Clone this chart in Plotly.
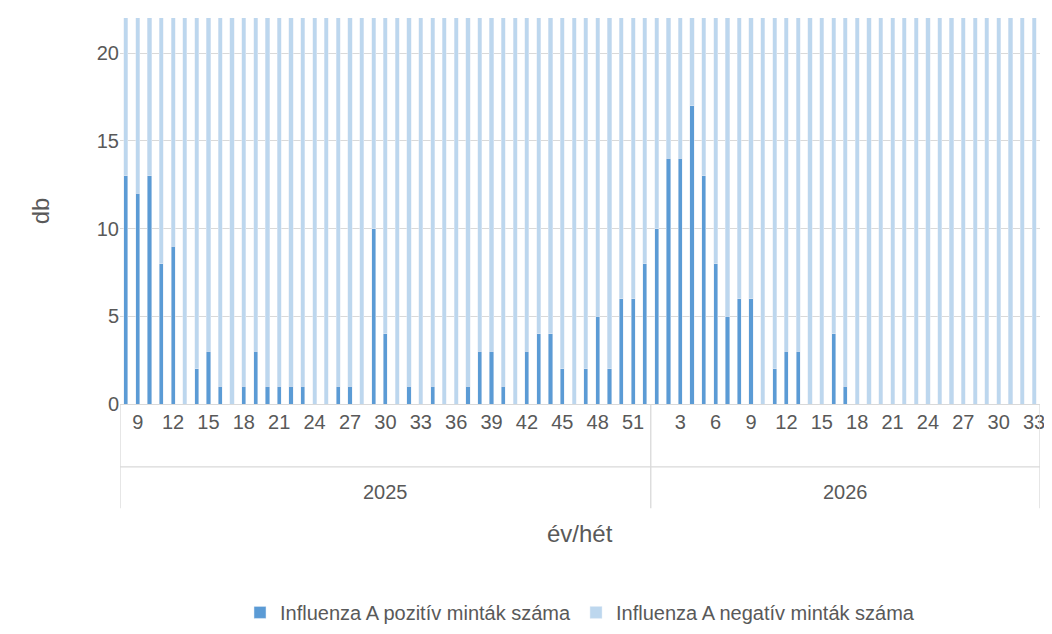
import plotly.graph_objects as go

# 2025: weeks 8..52, 2026: weeks 1..33
weeks_2025 = list(range(8, 53))
weeks_2026 = list(range(1, 34))

pos_2025 = [13, 12, 13, 8, 9, 0, 2, 3, 1, 0, 1, 3, 1, 1, 1, 1, 0, 0, 1, 1, 0, 10, 4,
            0, 1, 0, 1, 0, 0, 1, 3, 3, 1, 0, 3, 4, 4, 2, 0, 2, 5, 2, 6, 6, 8]
pos_2026 = [10, 14, 14, 17, 13, 8, 5, 6, 6, 0, 2, 3, 3, 0, 0, 4, 1,
            0, 0, 0, 0, 0, 0, 0, 0, 0, 0, 0, 0, 0, 0, 0, 0]
# negatives exceed the visible range (bars clipped at 22)
neg_2025 = [40, 42, 45, 41, 44, 39, 38, 36, 37, 35, 34, 36, 33, 35, 34, 32, 31, 33, 30, 32,
            31, 34, 33, 32, 35, 34, 36, 33, 35, 37, 38, 36, 39, 40, 41, 43, 42, 44, 45, 46,
            44, 47, 48, 46, 49]
neg_2026 = [50, 52, 51, 53, 50, 48, 49, 47, 46, 45, 44, 43, 42, 44, 41, 40, 42,
            39, 38, 40, 37, 36, 38, 35, 36, 34, 35, 33, 34, 32, 33, 31, 30]

weeks = weeks_2025 + weeks_2026
pos = pos_2025 + pos_2026
neg = neg_2025 + neg_2026
x = list(range(len(weeks)))

tickvals = [i for i, w in enumerate(weeks) if w % 3 == 0]
ticktext = [str(weeks[i]) for i in tickvals]

fig = go.Figure()
fig.add_trace(go.Bar(x=x, y=pos, name="Influenza A pozitív minták száma", marker_color="#5b9bd5"))
fig.add_trace(go.Bar(x=x, y=neg, name="Influenza A negatív minták száma", marker_color="#bdd7ee"))

n25 = len(weeks_2025)
n = len(weeks)
line = dict(color="#d9d9d9", width=1.3)
for xv in [-0.5, n25 - 0.5, n - 0.5]:
    fig.add_shape(type="line", x0=xv, x1=xv, y0=0, y1=-0.27, xref="x", yref="paper", line=line)
fig.add_shape(type="line", x0=-0.5, x1=n - 0.5, y0=-0.163, y1=-0.163, xref="x", yref="paper", line=line)
fig.add_annotation(x=(n25 - 1) / 2, y=-0.262, xref="x", yref="paper", text="2025",
                   showarrow=False, font=dict(size=20, color="#595959"))
fig.add_annotation(x=n25 + (len(weeks_2026) - 1) / 2, y=-0.262, xref="x", yref="paper", text="2026",
                   showarrow=False, font=dict(size=20, color="#595959"))
fig.add_annotation(x=0.5, y=-0.376, xref="paper", yref="paper", text="év/hét",
                   showarrow=False, font=dict(size=24, color="#595959"))

fig.update_layout(
    barmode="stack", bargap=0.65,
    width=1052, height=634,
    margin=dict(l=112, r=20, t=10, b=238),
    plot_bgcolor="white", paper_bgcolor="white",
    font=dict(family="Liberation Sans", size=20, color="#595959"),
    legend=dict(orientation="h", x=0.5, xanchor="center", y=-0.54, yanchor="middle",
                font=dict(size=20), traceorder="normal"),
    xaxis=dict(range=[-0.5, n - 0.5], tickvals=tickvals, ticktext=ticktext,
               showgrid=False, showline=True, linecolor="#d9d9d9", ticks=""),
    yaxis=dict(range=[0, 22], tickvals=[0, 5, 10, 15, 20], showgrid=True, gridcolor="#d9d9d9",
               zeroline=False, title=dict(text="db", font=dict(size=24), standoff=40)),
)

fig.write_html("out.html")
